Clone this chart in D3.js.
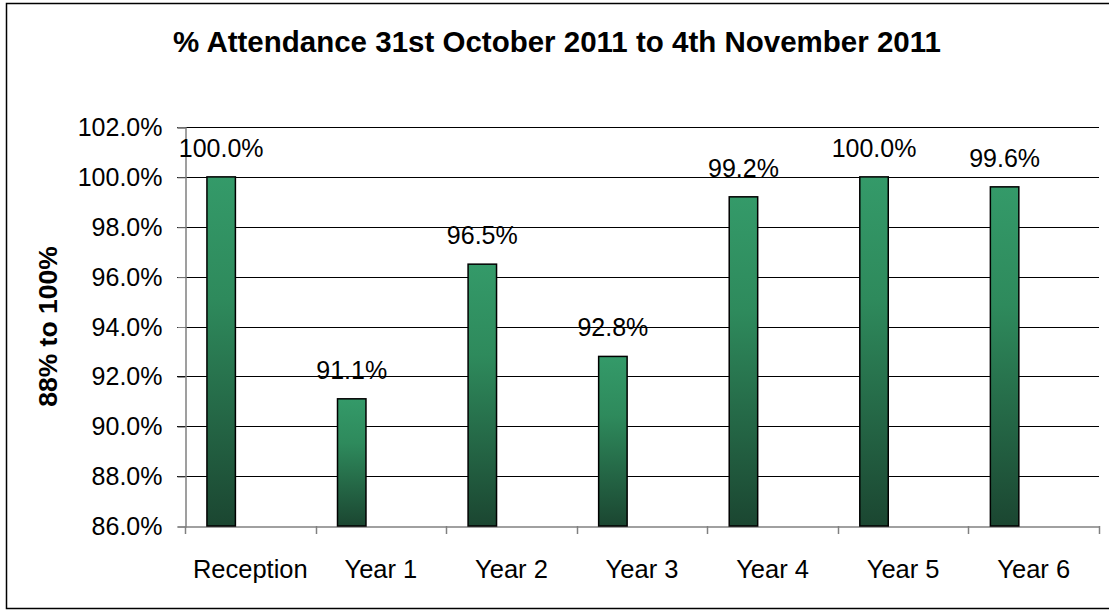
<!DOCTYPE html>
<html>
<head>
<meta charset="utf-8">
<script src="https://cdn.jsdelivr.net/npm/d3@7"></script>
<style>
html,body{margin:0;padding:0;background:#fff;}
svg{display:block;}
text{font-family:"Liberation Sans",Arial,sans-serif;fill:#000;}
</style>
</head>
<body>
<svg id="chart" width="1109" height="610"></svg>
<script>
const categories = ["Reception", "Year 1", "Year 2", "Year 3", "Year 4", "Year 5", "Year 6"];
const attendance = [100.0, 91.1, 96.5, 92.8, 99.2, 100.0, 99.6];
const yTicks = [86, 88, 90, 92, 94, 96, 98, 100, 102];
const titleText = "% Attendance 31st October 2011 to 4th November 2011";
const yTitleText = "88% to 100%";

const W = 1109, H = 610;
const plot = {left: 185, right: 1099, top: 127, bottom: 526};

const svg = d3.select("#chart");

// gradient
const defs = svg.append("defs");
const grad = defs.append("linearGradient").attr("id", "barGrad")
  .attr("x1", 0).attr("y1", 0).attr("x2", 0).attr("y2", 1);
grad.append("stop").attr("offset", "0%").attr("stop-color", "#349a69");
grad.append("stop").attr("offset", "35%").attr("stop-color", "#2e8a5c");
grad.append("stop").attr("offset", "100%").attr("stop-color", "#1b4631");

// outer border
svg.append("rect").attr("x", 6.5).attr("y", 3.5).attr("width", W + 20).attr("height", 605)
  .attr("fill", "#fff").attr("stroke", "#000").attr("stroke-width", 1.5);

const x = d3.scaleBand().domain(categories).range([plot.left, plot.right]).paddingInner(0).paddingOuter(0);
const y = d3.scaleLinear().domain([86, 102]).range([plot.bottom, plot.top]);

// gridlines
svg.append("g").selectAll("line").data(yTicks.filter(d => d !== 86)).join("line")
  .attr("x1", plot.left - 8).attr("x2", plot.right)
  .attr("y1", d => Math.round(y(d)) + 0.5).attr("y2", d => Math.round(y(d)) + 0.5)
  .attr("stroke", "#000").attr("stroke-width", 1);

// y axis
const yAxis = d3.axisLeft(y).tickValues(yTicks).tickSize(8).tickPadding(15)
  .tickFormat(d => d3.format(".1f")(d) + "%");
const gy = svg.append("g").attr("transform", `translate(${plot.left + 0.5},0.5)`).call(yAxis);
gy.select(".domain").attr("stroke", "#808080").attr("stroke-width", 1.5);
gy.selectAll(".tick line").attr("stroke", "#808080");
gy.selectAll(".tick text").attr("font-size", 25).attr("font-family", '"Liberation Sans",Arial,sans-serif').attr("fill", "#000");

// x axis
const xAxis = d3.axisBottom(x).tickSize(0).tickPadding(33);
const gx = svg.append("g").attr("transform", `translate(0,${plot.bottom + 0.5})`).call(xAxis);
gx.select(".domain").attr("stroke", "#808080").attr("stroke-width", 1.5);
gx.selectAll(".tick text").attr("font-size", 25.5).attr("font-family", '"Liberation Sans",Arial,sans-serif').attr("fill", "#000");
// category boundary ticks
const bounds = categories.map(c => x(c)).concat([x(categories[categories.length - 1]) + x.bandwidth()]);
svg.append("g").selectAll("line").data(bounds).join("line")
  .attr("x1", d => Math.round(d) + 0.5).attr("x2", d => Math.round(d) + 0.5)
  .attr("y1", plot.bottom).attr("y2", plot.bottom + 8)
  .attr("stroke", "#808080").attr("stroke-width", 1.5);

// bars
const bw = x.bandwidth();
const barOff = bw * 0.168, barW = bw * 0.218;
svg.append("g").selectAll("rect").data(categories).join("rect")
  .attr("x", (d) => x(d) + barOff)
  .attr("y", (d, i) => y(attendance[i]))
  .attr("width", barW)
  .attr("height", (d, i) => y(86) - y(attendance[i]))
  .attr("fill", "url(#barGrad)")
  .attr("stroke", "#000").attr("stroke-width", 1.5);

// value labels
svg.append("g").selectAll("text").data(categories).join("text")
  .attr("x", d => x(d) + barOff + barW / 2)
  .attr("y", (d, i) => y(attendance[i]) - 20)
  .attr("text-anchor", "middle").attr("font-size", 25)
  .text((d, i) => d3.format(".1f")(attendance[i]) + "%");

// title
svg.append("text").attr("x", 557).attr("y", 52).attr("text-anchor", "middle")
  .attr("font-size", 29.5).attr("font-weight", "bold").text(titleText);

// y title
svg.append("text").attr("transform", `translate(57,${(plot.top + plot.bottom) / 2}) rotate(-90)`)
  .attr("text-anchor", "middle").attr("font-size", 26.5).attr("font-weight", "bold").text(yTitleText);
</script>
</body>
</html>
